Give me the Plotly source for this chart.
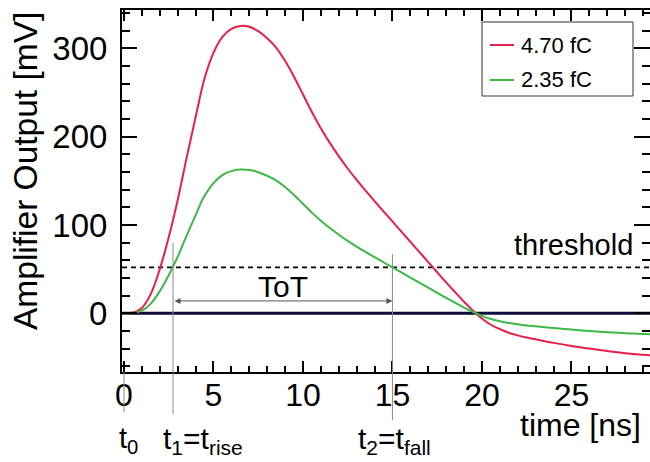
import plotly.graph_objects as go

# ---- data ----
time_ns = [0, 0.5, 1, 1.5, 2, 2.5, 3, 3.5, 4, 4.5, 5, 5.5, 6, 6.5, 7, 7.5, 8, 8.5, 9, 9.5,
           10, 10.5, 11, 11.5, 12, 12.5, 13, 13.5, 14, 14.5, 15, 15.5, 16, 16.5, 17, 17.5, 18, 18.5, 19, 19.5,
           20, 20.5, 21, 21.5, 22, 22.5, 23, 24, 25, 26, 27, 28, 29, 29.4]
amp_470fC = [0, 0.8, 6, 22, 50, 86, 128, 176, 222, 266, 295, 313, 322, 325.5, 324.5, 319.5, 311.5, 301, 286, 268,
             248, 228, 209.5, 193, 178, 164, 151, 139, 127, 115.5, 104, 92.5, 81, 69.5, 58, 46.5, 35, 24, 13, 3,
             -6, -13, -18, -22, -25, -27.5, -29.5, -33.5, -37, -40, -42.8, -45.2, -47, -47.6]
amp_235fC = [0, 0.4, 3, 11, 25, 43, 64, 88, 111, 133, 147.5, 156.5, 161, 162.8, 162.2, 159.8, 155.8, 150.5, 143, 134,
             124, 114, 104.8, 96.5, 89, 82, 75.5, 69.5, 63.5, 57.8, 52, 46.2, 40.5, 34.8, 29, 23.2, 17.5, 12, 6.5, 1.5,
             -3, -6.5, -9, -11, -12.5, -13.8, -14.8, -16.8, -18.5, -20, -21.4, -22.6, -23.5, -23.8]
series_names = ["4.70 fC", "2.35 fC"]
series_colors = ["#e91e4d", "#3cb846"]

threshold_mV = 52
t0_ns, t1_ns, t2_ns = 0.0, 2.74, 15.0
tot_arrow_mV = 14
x_range = [-0.11, 29.39]
y_range = [-66.5, 343.5]

FONT = "Liberation Sans, Arial, Helvetica, sans-serif"

# plot-area pixel geometry (for placing paper-anchored decorations)
L, R, T, B = 122, 650, 10, 372


def px_x(p):
    return (p - L) / (R - L)


def px_y(p):
    return (B - p) / (B - T)


def yfrac(v):
    return (v - y_range[0]) / (y_range[1] - y_range[0])


fig = go.Figure()
for name, vals, col in zip(series_names, [amp_470fC, amp_235fC], series_colors):
    fig.add_trace(go.Scatter(x=time_ns, y=vals, name=name, mode="lines",
                             line=dict(color=col, width=2, shape="spline", smoothing=1.0),
                             showlegend=False))
# invisible trace to carry right-hand tick axis
fig.add_trace(go.Scatter(x=[time_ns[0]], y=[0], yaxis="y2", mode="markers",
                         marker=dict(opacity=0), showlegend=False, hoverinfo="skip"))

shapes = [
    dict(type="line", xref="paper", yref="y", x0=0, x1=1, y0=0, y1=0,
         line=dict(color="#0b0b3d", width=3), layer="below"),
    dict(type="line", xref="paper", yref="y", x0=0, x1=1, y0=threshold_mV, y1=threshold_mV,
         line=dict(color="black", width=1.6, dash="5px,4px"), layer="below"),
    dict(type="line", xref="x", yref="paper", x0=t0_ns, x1=t0_ns, y0=0, y1=px_y(412),
         line=dict(color="#8a8a8a", width=1), layer="above"),
    dict(type="line", xref="x", yref="paper", x0=t1_ns, x1=t1_ns, y0=yfrac(80), y1=px_y(414),
         line=dict(color="#8a8a8a", width=1), layer="above"),
    dict(type="line", xref="x", yref="paper", x0=t2_ns, x1=t2_ns, y0=yfrac(67), y1=px_y(420),
         line=dict(color="#8a8a8a", width=1), layer="above"),
    # legend box
    dict(type="rect", xref="paper", yref="paper", x0=px_x(482), x1=px_x(633), y0=px_y(22), y1=px_y(96),
         line=dict(color="#333333", width=1), fillcolor="white", layer="above"),
]

annotations = [
    dict(x=t2_ns, y=tot_arrow_mV, ax=t1_ns, ay=tot_arrow_mV, xref="x", yref="y", axref="x", ayref="y",
         text="", showarrow=True, arrowhead=2, startarrowhead=2, arrowside="end+start",
         arrowsize=1.2, startarrowsize=1.2, arrowwidth=1, arrowcolor="#555555"),
    dict(x=(t1_ns + t2_ns) / 2, y=30, xref="x", yref="y", text="ToT", showarrow=False,
         font=dict(size=30, color="black", family=FONT), xanchor="center", yanchor="middle"),
    dict(x=px_x(635), y=77, xref="paper", yref="y", text="threshold", showarrow=False,
         font=dict(size=29, color="black", family=FONT), xanchor="right", yanchor="middle"),
    dict(x=px_x(25), y=1.0, xref="paper", yref="paper", text="Amplifier Output [mV]", showarrow=False,
         textangle=-90, font=dict(size=33.5, color="black", family=FONT), xanchor="center", yanchor="top"),
    dict(x=px_x(643), y=px_y(425), xref="paper", yref="paper", text="time [ns]", showarrow=False,
         font=dict(size=32, color="black", family=FONT), xanchor="right", yanchor="middle"),
    dict(x=px_x(117), y=px_y(440), xref="paper", yref="paper", text="t<sub>0</sub>", showarrow=False,
         font=dict(size=29, color="black", family=FONT), xanchor="left", yanchor="middle"),
    dict(x=px_x(161), y=px_y(440), xref="paper", yref="paper", text="t<sub>1</sub>=t<sub>rise</sub>",
         showarrow=False, font=dict(size=30, color="black", family=FONT), xanchor="left", yanchor="middle"),
    dict(x=px_x(356), y=px_y(440), xref="paper", yref="paper", text="t<sub>2</sub>=t<sub>fall</sub>",
         showarrow=False, font=dict(size=30, color="black", family=FONT), xanchor="left", yanchor="middle"),
]

# manual legend entries
for i, (name, col) in enumerate(zip(series_names, series_colors)):
    row = 45 + 35 * i
    shapes.append(dict(type="line", xref="paper", yref="paper", x0=px_x(490), x1=px_x(514),
                       y0=px_y(row), y1=px_y(row), line=dict(color=col, width=2), layer="above"))
    annotations.append(dict(x=px_x(519), y=px_y(row), xref="paper", yref="paper", text=name,
                            showarrow=False, font=dict(size=22, color="black", family=FONT),
                            xanchor="left", yanchor="middle"))

fig.update_layout(
    width=650, height=462,
    margin=dict(l=L, r=650 - R, t=T, b=462 - B),
    paper_bgcolor="white", plot_bgcolor="white",
    font=dict(family=FONT, size=32, color="black"),
    showlegend=False,
    xaxis=dict(range=x_range, showline=True, linecolor="black", linewidth=2, mirror="ticks",
               ticks="inside", ticklen=11, tickwidth=1.5, tickcolor="black",
               tick0=0, dtick=5, showgrid=False, zeroline=False,
               tickfont=dict(size=32, family=FONT), ticklabelstandoff=-6,
               minor=dict(ticks="inside", dtick=1, ticklen=6, tickwidth=1.5, tickcolor="black", showgrid=False)),
    yaxis=dict(range=y_range, showline=True, linecolor="black", linewidth=2, mirror=False,
               ticks="inside", ticklen=15, tickwidth=1.5, tickcolor="black",
               tick0=0, dtick=100, showgrid=False, zeroline=False,
               tickfont=dict(size=33, family=FONT), ticklabelstandoff=6,
               minor=dict(ticks="inside", dtick=20, ticklen=8, tickwidth=1.5, tickcolor="black", showgrid=False)),
    yaxis2=dict(range=y_range, overlaying="y", side="right", showline=False, showticklabels=False,
                ticks="inside", ticklen=16, tickwidth=1.5, tickcolor="black",
                tick0=0, dtick=100, showgrid=False, zeroline=False,
                minor=dict(ticks="inside", dtick=20, ticklen=8, tickwidth=1.5, tickcolor="black", showgrid=False)),
    shapes=shapes,
    annotations=annotations,
)

fig.write_html("out.html")
